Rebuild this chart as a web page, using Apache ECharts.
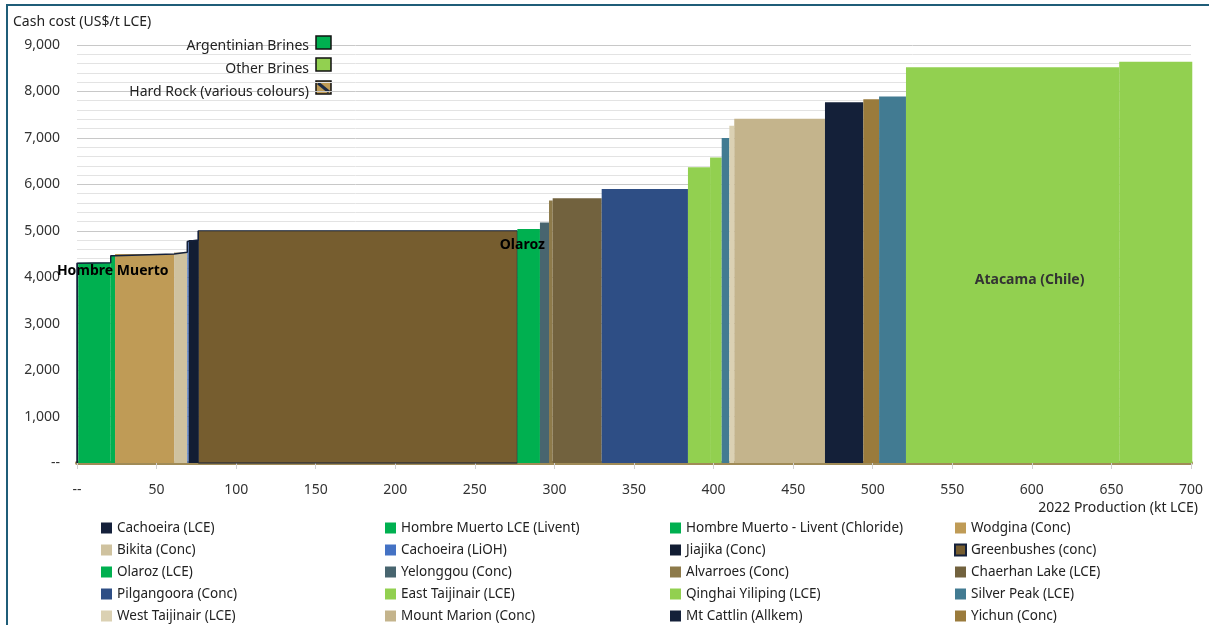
<!DOCTYPE html>
<html>
<head>
<meta charset="utf-8">
<script src="https://cdn.jsdelivr.net/npm/echarts@6/dist/echarts.min.js"></script>
<style>
  html, body { margin: 0; padding: 0; background: #fff; }
  #chart { width: 1209px; height: 625px; }
</style>
</head>
<body>
<div id="chart"></div>
<script>
// projects in cost order (left to right on the curve)
var projects = [
  'Cachoeira (LCE)', 'Hombre Muerto LCE (Livent)', 'Hombre Muerto - Livent (Chloride)', 'Wodgina (Conc)',
  'Bikita (Conc)', 'Cachoeira (LiOH)', 'Jiajika (Conc)', 'Greenbushes (conc)',
  'Olaroz (LCE)', 'Yelonggou (Conc)', 'Alvarroes (Conc)', 'Chaerhan Lake (LCE)',
  'Pilgangoora (Conc)', 'East Taijinair (LCE)', 'Qinghai Yiliping (LCE)', 'Silver Peak (LCE)',
  'West Taijinair (LCE)', 'Mount Marion (Conc)', 'Mt Cattlin (Allkem)', 'Yichun (Conc)',
  'Other brine', 'Atacama (Chile)', 'Atacama 2'
];
// 2022 production, kt LCE (bar widths)
var production = [0.8, 20.4, 2.7, 37.1, 8.3, 0.9, 6.0, 200.5, 14.2, 5.7, 2.3, 30.8,
  54.2, 13.9, 7.3, 4.8, 3.1, 57.0, 24.1, 9.9, 16.9, 134.0, 45.9];
// cash cost, US$/t LCE (bar heights)
var cashCost = [4300, 4310, 4460, 4500, 4540, 4770, 4800, 5000, 5040, 5180, 5650, 5700,
  5900, 6370, 6580, 7000, 7260, 7410, 7770, 7830, 7890, 8520, 8640];
var legendNames = projects.slice(0, 20);
var zeroLabel = '--';
var barLabels = { 1: 'Hombre Muerto', 8: 'Olaroz', 21: 'Atacama (Chile)' };
var typeKey = ['Argentinian Brines', 'Other Brines', 'Hard Rock (various colours)'];

var colors = ['#15213b', '#00b050', '#00b050', '#bf9b56', '#cfc29f', '#4472c4', '#121d33', '#765d2f',
  '#00b050', '#48656f', '#8d7a4a', '#72623e', '#2e4e85', '#92d050', '#92d050', '#427b92',
  '#dbd1b3', '#c4b48c', '#142039', '#9a7b3c', '#427b92', '#92d050', '#92d050'];
var labelPlace = {
  1: { at: 'topRight', dx: 2, dy: 8 },
  8: { at: 'topLeft', dx: 5, dy: 16 },
  21: { at: 'center', dx: 17, dy: 15 }
};
var font = '"Noto Sans", sans-serif';

var starts = [];
var acc = 0;
production.forEach(function (w) { starts.push(acc); acc += w; });

function renderItem(params, api) {
  var tl = api.coord([api.value(0), api.value(2)]);
  var br = api.coord([api.value(1), 0]);
  var rect = {
    type: 'rect',
    shape: { x: tl[0], y: tl[1], width: br[0] - tl[0], height: br[1] - tl[1] },
    style: api.style()
  };
  var i = params.seriesIndex;
  if (!barLabels[i]) return rect;
  var p = labelPlace[i];
  var x = p.at === 'topRight' ? br[0] : p.at === 'topLeft' ? tl[0] : (tl[0] + br[0]) / 2;
  var y = p.at === 'center' ? (tl[1] + br[1]) / 2 : tl[1];
  return {
    type: 'group',
    children: [rect, {
      type: 'text', x: x + p.dx, y: y + p.dy, z2: 10,
      style: { text: barLabels[i], fill: i === 21 ? '#333' : '#000', fontWeight: 'bold',
        fontSize: 14, fontFamily: font, align: 'center', verticalAlign: 'middle' }
    }]
  };
}

var series = projects.map(function (name, i) {
  var st = { color: colors[i] };
  if (i === 7) { st.borderColor = '#15213b'; st.borderWidth = 1; }
  return {
    name: name,
    type: 'custom',
    renderItem: renderItem,
    itemStyle: st,
    encode: { x: [0, 1], y: 2 },
    data: [[starts[i], starts[i] + production[i], cashCost[i]]],
    z: 2
  };
});

// navy outline along the tops of the lowest-cost block
var outline = [[0, 0]];
for (var k = 0; k <= 7; k++) outline.push([starts[k], cashCost[k]]);
series.push({
  name: 'outline', type: 'line', step: 'end', symbol: 'none', silent: true,
  lineStyle: { color: '#15213b', width: 1.5 }, data: outline, z: 3
});

var legends = [96, 380, 665, 949].map(function (left, c) {
  return {
    orient: 'vertical', left: left, top: 515, height: 160, itemWidth: 11, itemHeight: 11, itemGap: 6,
    selectedMode: false, icon: 'rect',
    textStyle: { color: '#222', fontSize: 13.5, fontFamily: font, lineHeight: 16 },
    data: legendNames.filter(function (n, j) { return j % 4 === c; })
  };
});

var keyY = [42, 65, 88];
var graphic = [
  { type: 'rect', shape: { x: 7, y: 5, width: 1215, height: 640 },
    style: { fill: 'none', stroke: '#1f5d78', lineWidth: 2 } },
  { type: 'text', x: 13, y: 22, style: { text: 'Cash cost (US$/t LCE)', fill: '#222', fontSize: 14,
    fontFamily: font, verticalAlign: 'middle' } },
  { type: 'text', x: 1198, y: 508, style: { text: '2022 Production (kt LCE)', fill: '#222', fontSize: 14,
    fontFamily: font, align: 'right', verticalAlign: 'middle' } }
];
typeKey.forEach(function (t, i) {
  graphic.push({ type: 'text', x: 309, y: keyY[i] + 4, z: 20,
    style: { text: t, fill: '#222', fontSize: 14, fontFamily: font, align: 'right', verticalAlign: 'middle' } });
});
graphic.push({ type: 'rect', z: 20, shape: { x: 316, y: 36, width: 15, height: 13 },
  style: { fill: '#00b050', stroke: '#111', lineWidth: 1.5 } });
graphic.push({ type: 'rect', z: 20, shape: { x: 316, y: 58, width: 15, height: 13 },
  style: { fill: '#92d050', stroke: '#111', lineWidth: 1.5 } });
graphic.push({ type: 'group', z: 20, children: [
  { type: 'rect', shape: { x: 316, y: 81, width: 15, height: 13 },
    style: { fill: '#bf9b56', stroke: '#111', lineWidth: 1.5 } },
  { type: 'line', shape: { x1: 318, y1: 83, x2: 329, y2: 92 },
    style: { stroke: '#1c2a44', lineWidth: 3 } }
] });

var chart = echarts.init(document.getElementById('chart'));
chart.setOption({
  animation: false,
  grid: { left: 77, right: 18, top: 45, bottom: 162 },
  xAxis: {
    type: 'value', min: 0, max: 700, interval: 50,
    axisLine: { show: true, onZero: false, lineStyle: { color: '#a08b57', width: 4 } },
    axisTick: { show: true, length: 6, lineStyle: { color: '#d0d0d0' } },
    axisLabel: { margin: 20, color: '#333', fontSize: 14, fontFamily: font,
      formatter: function (v) { return v === 0 ? zeroLabel : String(v); } },
    splitLine: { show: false }
  },
  yAxis: {
    type: 'value', min: 0, max: 9000, interval: 1000,
    axisLine: { show: false }, axisTick: { show: false },
    axisLabel: { margin: 17, color: '#333', fontSize: 14, fontFamily: font,
      formatter: function (v) { return v === 0 ? zeroLabel : v.toLocaleString('en-US'); } },
    splitLine: { lineStyle: { color: '#c8c8c8' } },
    minorTick: { show: false, splitNumber: 5 },
    minorSplitLine: { show: true, lineStyle: { color: '#e3e3e3' } }
  },
  legend: legends,
  graphic: graphic,
  series: series
});
</script>
</body>
</html>
